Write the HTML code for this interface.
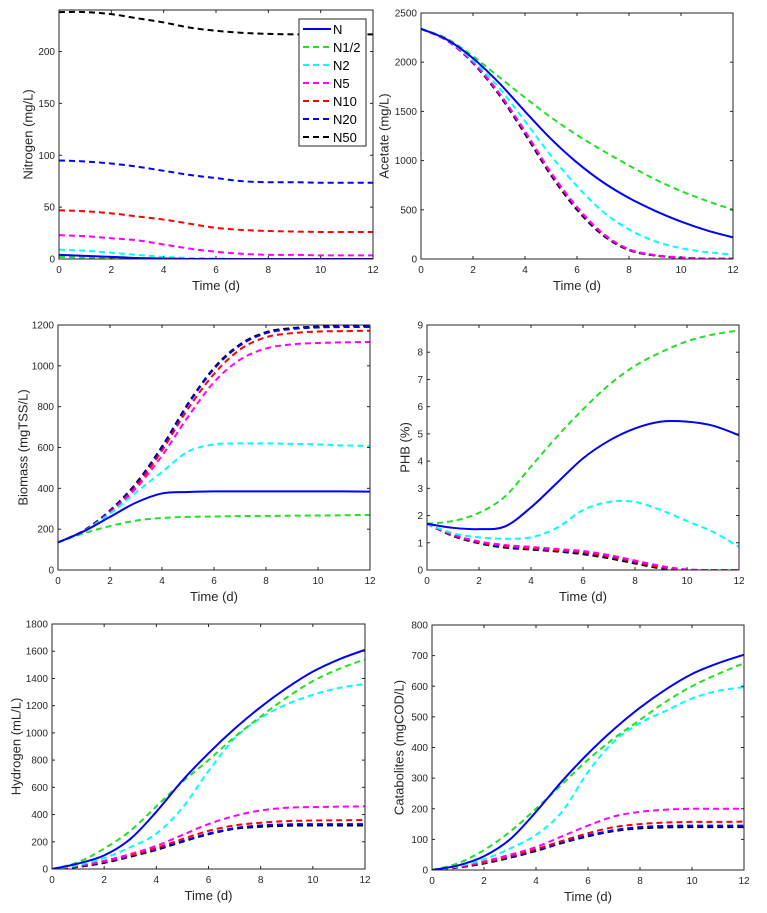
<!DOCTYPE html>
<html><head><meta charset="utf-8"><style>
html,body{margin:0;padding:0;background:#fff;}
svg{display:block;font-family:"Liberation Sans",Arial,sans-serif;}
</style></head><body>
<svg id="fig" width="767" height="913" viewBox="0 0 767 913"></svg>
<script>
const times=[0,1,2,3,4,5,6,7,8,9,10,11,12];
const seriesNames=["N","N1/2","N2","N5","N10","N20","N50"];
const seriesColors=["#0000ff","#22e022","#00ffff","#ff00ff","#ff0000","#0000ff","#000000"];
// Nitrogen
const nitroN=[4,3,2,1,0.5,0,0,0,0,0,0,0,0];
const nitroNh=[2,1.5,1,0.5,0,0,0,0,0,0,0,0,0];
const nitroN2=[9,8,6,4,2,1,0.5,0,0,0,0,0,0];
const nitroN5=[23,22,20,18,14,10,7,5,4,4,3.5,3.5,3.5];
const nitroN10=[47,46,44,41,38,34,30,28,27,26.5,26,26,26];
const nitroN20=[95,94,92,89,85,81,78,75,74,74,73.5,73.5,73.5];
const nitroN50=[238,238,236,232,228,223,220,218,217,216.5,216.5,216.5,216.5];
// Acetate
const aceN=[2340,2230,2040,1790,1500,1220,980,780,620,490,380,290,220];
const aceNh=[2340,2240,2060,1850,1640,1440,1260,1100,950,810,690,590,500];
const aceN2=[2340,2230,2020,1740,1400,1050,740,480,300,180,110,70,45];
const aceN5=[2340,2220,2000,1690,1300,880,530,260,100,40,15,5,3];
const aceN10=[2340,2220,1998,1685,1292,872,522,255,97,38,14,5,3];
const aceN20=[2340,2220,1995,1680,1285,865,515,250,94,37,13,4,2];
const aceN50=[2340,2220,1990,1670,1270,850,500,240,90,35,12,4,2];
// Biomass
const bioN=[135,190,260,330,375,382,385,385,385,385,385,385,384];
const bioNh=[135,180,215,242,255,260,262,264,265,266,267,268,270];
const bioN2=[135,190,275,380,480,580,615,620,620,618,615,610,608];
const bioN5=[135,190,280,400,560,750,920,1030,1085,1105,1112,1115,1117];
const bioN10=[135,192,285,410,585,790,960,1080,1140,1160,1168,1170,1172];
const bioN20=[135,193,290,420,600,810,985,1100,1160,1180,1188,1190,1190];
const bioN50=[135,194,292,425,605,815,990,1105,1165,1185,1192,1195,1195];
// PHB
const phbN=[1.7,1.55,1.5,1.6,2.3,3.2,4.1,4.75,5.2,5.45,5.45,5.3,4.95];
const phbNh=[1.7,1.8,2.1,2.7,3.8,4.9,5.9,6.8,7.5,8.0,8.4,8.65,8.8];
const phbN2=[1.7,1.35,1.2,1.15,1.2,1.55,2.2,2.5,2.5,2.2,1.8,1.4,0.85];
const phbN5=[1.7,1.3,1.05,0.92,0.85,0.77,0.7,0.55,0.35,0.15,0.02,0,0];
const phbN10=[1.7,1.28,1.02,0.88,0.8,0.72,0.65,0.5,0.3,0.1,0.01,0,0];
const phbN20=[1.7,1.27,1.0,0.85,0.78,0.7,0.62,0.47,0.27,0.08,0.01,0,0];
const phbN50=[1.7,1.25,0.98,0.82,0.75,0.68,0.58,0.43,0.24,0.06,0,0,0];
// Hydrogen
const h2N=[0,40,100,220,420,650,850,1030,1190,1330,1450,1540,1610];
const h2Nh=[0,50,150,280,460,640,800,970,1120,1260,1380,1470,1540];
const h2N2=[0,30,80,160,260,450,720,960,1110,1210,1280,1330,1360];
const h2N5=[0,25,60,110,170,250,330,390,430,450,455,458,460];
const h2N10=[0,20,55,100,155,220,280,320,340,352,356,358,360];
const h2N20=[0,18,50,95,145,205,260,300,320,328,330,330,330];
const h2N50=[0,15,45,90,140,200,255,295,310,318,320,320,320];
// Catabolites
const catN=[0,15,45,100,190,290,380,460,530,590,640,675,703];
const catNh=[0,22,65,125,200,280,360,430,490,550,600,640,675];
const catN2=[0,12,35,70,115,190,320,420,480,520,560,585,597];
const catN5=[0,12,28,50,75,110,145,175,190,197,200,200,200];
const catN10=[0,10,25,45,68,95,120,140,150,155,157,157,158];
const catN20=[0,9,23,42,64,90,113,130,140,144,145,145,145];
const catN50=[0,8,21,40,62,88,110,127,136,139,140,140,140];

const xTicks=[0,2,4,6,8,10,12];
const panels=[
 {id:"nitrogen",label:"Nitrogen (mg/L)",lx:29,x0:59,x1:373,y0:259,y1:10,ymax:240,yTicks:[0,50,100,150,200],data:[nitroN,nitroNh,nitroN2,nitroN5,nitroN10,nitroN20,nitroN50],legend:true},
 {id:"acetate",label:"Acetate (mg/L)",lx:385,x0:421,x1:733,y0:259,y1:13,ymax:2500,yTicks:[0,500,1000,1500,2000,2500],data:[aceN,aceNh,aceN2,aceN5,aceN10,aceN20,aceN50]},
 {id:"biomass",label:"Biomass (mgTSS/L)",lx:24,x0:58,x1:370,y0:570,y1:325,ymax:1200,yTicks:[0,200,400,600,800,1000,1200],data:[bioN,bioNh,bioN2,bioN5,bioN10,bioN20,bioN50]},
 {id:"phb",label:"PHB (%)",lx:406,x0:427,x1:739,y0:570,y1:325,ymax:9,yTicks:[0,1,2,3,4,5,6,7,8,9],data:[phbN,phbNh,phbN2,phbN5,phbN10,phbN20,phbN50]},
 {id:"hydrogen",label:"Hydrogen (mL/L)",lx:17,x0:52,x1:365,y0:869,y1:624,ymax:1800,yTicks:[0,200,400,600,800,1000,1200,1400,1600,1800],data:[h2N,h2Nh,h2N2,h2N5,h2N10,h2N20,h2N50]},
 {id:"catabolites",label:"Catabolites (mgCOD/L)",lx:400,x0:432,x1:744,y0:870,y1:625,ymax:800,yTicks:[0,100,200,300,400,500,600,700,800],data:[catN,catNh,catN2,catN5,catN10,catN20,catN50]}
];
const NS="http://www.w3.org/2000/svg";
const svg=document.getElementById('fig');
function mk(tag,attrs,parent){const e=document.createElementNS(NS,tag);for(const k in attrs)e.setAttribute(k,attrs[k]);(parent||svg).appendChild(e);return e;}
function smoothPath(pts){
 let d="M"+pts[0][0].toFixed(2)+","+pts[0][1].toFixed(2);
 for(let i=0;i<pts.length-1;i++){
  const p0=pts[Math.max(0,i-1)],p1=pts[i],p2=pts[i+1],p3=pts[Math.min(pts.length-1,i+2)];
  const c1=[p1[0]+(p2[0]-p0[0])/6,p1[1]+(p2[1]-p0[1])/6];
  const c2=[p2[0]-(p3[0]-p1[0])/6,p2[1]-(p3[1]-p1[1])/6];
  d+=" C"+c1[0].toFixed(2)+","+c1[1].toFixed(2)+" "+c2[0].toFixed(2)+","+c2[1].toFixed(2)+" "+p2[0].toFixed(2)+","+p2[1].toFixed(2);
 }
 return d;
}
panels.forEach(p=>{
 const g=mk('g',{});
 
 
 const sx=t=>p.x0+(t/12)*(p.x1-p.x0);
 const sy=v=>p.y0-(v/p.ymax)*(p.y0-p.y1);
 const clipId='clip-'+p.id;
 const cp=mk('clipPath',{id:clipId},g);
 mk('rect',{x:p.x0,y:p.y1,width:p.x1-p.x0,height:p.y0-p.y1},cp);
 const lines=mk('g',{'clip-path':'url(#'+clipId+')'},g);
 for(let s=p.data.length-1;s>=0;s--){
  const pts=times.map((t,i)=>[sx(t),sy(p.data[s][i])]);
  const path=mk('path',{d:smoothPath(pts),fill:'none',stroke:seriesColors[s],'stroke-width':2,'stroke-dasharray':s===0?'none':'6,4'},lines);
  
  
 }
 const box=mk('rect',{x:p.x0,y:p.y1,width:p.x1-p.x0,height:p.y0-p.y1,fill:'none',stroke:'#262626','stroke-width':1},g);
 
 
 xTicks.forEach(t=>{
  const x=sx(t);
  mk('line',{x1:x,y1:p.y0,x2:x,y2:p.y0-3,stroke:'#262626'},g);
  mk('line',{x1:x,y1:p.y1,x2:x,y2:p.y1+3,stroke:'#262626'},g);
  const tx=mk('text',{x:x,y:p.y0+14,'text-anchor':'middle','font-size':10,fill:'#262626'},g);
  tx.textContent=t;
  
  
 });
 p.yTicks.forEach(v=>{
  const y=sy(v);
  mk('line',{x1:p.x0,y1:y,x2:p.x0+3,y2:y,stroke:'#262626'},g);
  mk('line',{x1:p.x1,y1:y,x2:p.x1-3,y2:y,stroke:'#262626'},g);
  const ty=mk('text',{x:p.x0-4,y:y+3.5,'text-anchor':'end','font-size':10,fill:'#262626'},g);
  ty.textContent=v;
  
  
 });
 const xl=mk('text',{x:(p.x0+p.x1)/2,y:p.y0+31,'text-anchor':'middle','font-size':13,fill:'#262626'},g);
 xl.textContent='Time (d)';
 
 
 const lx=p.lx, ly=(p.y0+p.y1)/2;
 const yl=mk('text',{x:lx,y:ly,'text-anchor':'middle','dominant-baseline':'middle','font-size':13,fill:'#262626',transform:'rotate(-90 '+lx+' '+ly+')'},g);
 yl.textContent=p.label;
 
 
 if(p.legend){
  const lg=mk('g',{},g);
  
  
  mk('rect',{x:299,y:19,width:67,height:127,fill:'#fff',stroke:'#262626','stroke-width':1},lg);
  seriesNames.forEach((n,i)=>{
   const y=29+i*18;
   const e=mk('g',{},lg);
   
   
   mk('line',{x1:303,y1:y,x2:331,y2:y,stroke:seriesColors[i],'stroke-width':2,'stroke-dasharray':i===0?'none':'6,4'},e);
   const t=mk('text',{x:333,y:y+5,'font-size':13,fill:'#000'},e);
   t.textContent=n;
  });
 }
});
</script>
</body></html>
